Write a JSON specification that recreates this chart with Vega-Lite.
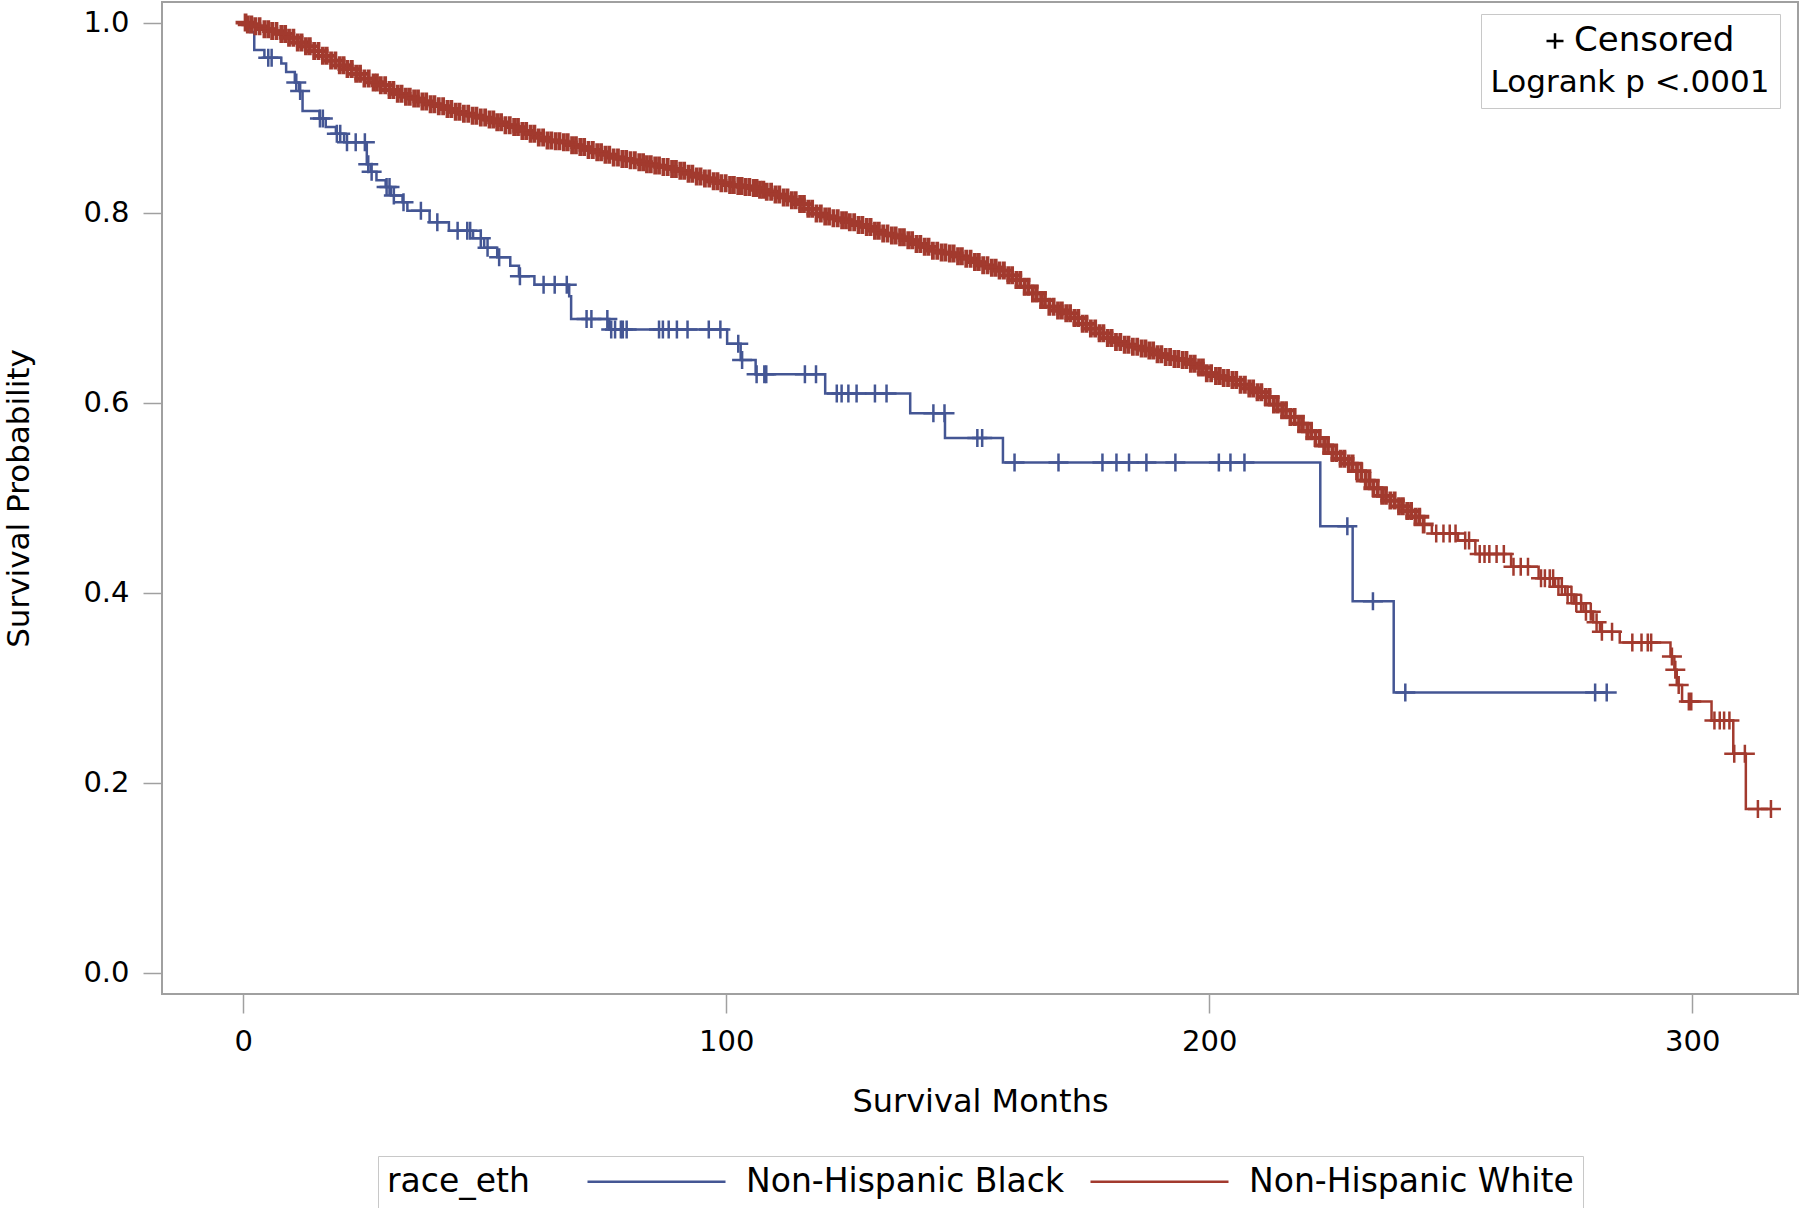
{
  "$schema": "https://vega.github.io/schema/vega-lite/v6.json",
  "width": 1636,
  "height": 992,
  "autosize": {"type": "none"},
  "padding": {"left": 162, "top": 2, "right": 2, "bottom": 214},
  "background": "white",
  "config": {
    "view": {"stroke": "#a0a0a0", "strokeWidth": 2},
    "axis": {"domain": false, "grid": false, "tickColor": "#a0a0a0", "tickWidth": 1.5, "tickSize": 19,
      "labelFont": "DejaVu Sans", "labelFontSize": 29, "labelColor": "#000000", "labelPadding": 14,
      "titleFont": "DejaVu Sans", "titleFontSize": 31, "titleFontWeight": "normal", "titleColor": "#000000"},
    "legend": {"labelFont": "DejaVu Sans", "labelFontSize": 33, "labelColor": "#000000", "labelLimit": 0, "titleLimit": 0,
      "titleFont": "DejaVu Sans", "titleFontSize": 33, "titleFontWeight": "normal", "titleColor": "#000000",
      "strokeColor": "#c8c8c8", "padding": 9}
  },
  "data": {"values": [
    {"g":"Non-Hispanic Black","t":0,"s":1,"c":0},
    {"g":"Non-Hispanic Black","t":1.5,"s":0.99,"c":0},
    {"g":"Non-Hispanic Black","t":2.3,"s":0.971,"c":0},
    {"g":"Non-Hispanic Black","t":4.4,"s":0.963,"c":0},
    {"g":"Non-Hispanic Black","t":5.2,"s":0.963,"c":1},
    {"g":"Non-Hispanic Black","t":5.9,"s":0.963,"c":1},
    {"g":"Non-Hispanic Black","t":7.9,"s":0.957,"c":0},
    {"g":"Non-Hispanic Black","t":8.9,"s":0.948,"c":0},
    {"g":"Non-Hispanic Black","t":10.7,"s":0.937,"c":0},
    {"g":"Non-Hispanic Black","t":11.0,"s":0.937,"c":1},
    {"g":"Non-Hispanic Black","t":11.6,"s":0.928,"c":0},
    {"g":"Non-Hispanic Black","t":11.8,"s":0.928,"c":1},
    {"g":"Non-Hispanic Black","t":12.3,"s":0.907,"c":0},
    {"g":"Non-Hispanic Black","t":15.8,"s":0.899,"c":0},
    {"g":"Non-Hispanic Black","t":15.9,"s":0.899,"c":1},
    {"g":"Non-Hispanic Black","t":16.5,"s":0.899,"c":1},
    {"g":"Non-Hispanic Black","t":17.1,"s":0.89,"c":0},
    {"g":"Non-Hispanic Black","t":19.2,"s":0.883,"c":0},
    {"g":"Non-Hispanic Black","t":19.4,"s":0.883,"c":1},
    {"g":"Non-Hispanic Black","t":20.1,"s":0.883,"c":1},
    {"g":"Non-Hispanic Black","t":20.9,"s":0.874,"c":0},
    {"g":"Non-Hispanic Black","t":21.5,"s":0.874,"c":1},
    {"g":"Non-Hispanic Black","t":23.3,"s":0.874,"c":1},
    {"g":"Non-Hispanic Black","t":25.2,"s":0.874,"c":1},
    {"g":"Non-Hispanic Black","t":25.6,"s":0.851,"c":0},
    {"g":"Non-Hispanic Black","t":25.9,"s":0.851,"c":1},
    {"g":"Non-Hispanic Black","t":26.4,"s":0.843,"c":0},
    {"g":"Non-Hispanic Black","t":26.6,"s":0.843,"c":1},
    {"g":"Non-Hispanic Black","t":27.6,"s":0.834,"c":0},
    {"g":"Non-Hispanic Black","t":29.5,"s":0.827,"c":0},
    {"g":"Non-Hispanic Black","t":29.7,"s":0.827,"c":1},
    {"g":"Non-Hispanic Black","t":30.3,"s":0.827,"c":1},
    {"g":"Non-Hispanic Black","t":30.6,"s":0.818,"c":0},
    {"g":"Non-Hispanic Black","t":31.2,"s":0.818,"c":1},
    {"g":"Non-Hispanic Black","t":33.0,"s":0.811,"c":0},
    {"g":"Non-Hispanic Black","t":33.2,"s":0.811,"c":1},
    {"g":"Non-Hispanic Black","t":34.0,"s":0.802,"c":0},
    {"g":"Non-Hispanic Black","t":36.8,"s":0.802,"c":1},
    {"g":"Non-Hispanic Black","t":38.6,"s":0.79,"c":0},
    {"g":"Non-Hispanic Black","t":40.2,"s":0.79,"c":1},
    {"g":"Non-Hispanic Black","t":42.6,"s":0.781,"c":0},
    {"g":"Non-Hispanic Black","t":44.4,"s":0.781,"c":1},
    {"g":"Non-Hispanic Black","t":46.4,"s":0.781,"c":1},
    {"g":"Non-Hispanic Black","t":47.0,"s":0.781,"c":1},
    {"g":"Non-Hispanic Black","t":47.6,"s":0.773,"c":0},
    {"g":"Non-Hispanic Black","t":49.2,"s":0.773,"c":1},
    {"g":"Non-Hispanic Black","t":49.9,"s":0.763,"c":0},
    {"g":"Non-Hispanic Black","t":50.6,"s":0.763,"c":1},
    {"g":"Non-Hispanic Black","t":52.6,"s":0.753,"c":0},
    {"g":"Non-Hispanic Black","t":53.0,"s":0.753,"c":1},
    {"g":"Non-Hispanic Black","t":55.3,"s":0.744,"c":0},
    {"g":"Non-Hispanic Black","t":57.1,"s":0.733,"c":0},
    {"g":"Non-Hispanic Black","t":57.3,"s":0.733,"c":1},
    {"g":"Non-Hispanic Black","t":60.3,"s":0.724,"c":0},
    {"g":"Non-Hispanic Black","t":62.2,"s":0.724,"c":1},
    {"g":"Non-Hispanic Black","t":64.5,"s":0.724,"c":1},
    {"g":"Non-Hispanic Black","t":67.0,"s":0.724,"c":1},
    {"g":"Non-Hispanic Black","t":67.5,"s":0.712,"c":0},
    {"g":"Non-Hispanic Black","t":67.9,"s":0.688,"c":0},
    {"g":"Non-Hispanic Black","t":71.1,"s":0.688,"c":1},
    {"g":"Non-Hispanic Black","t":72.1,"s":0.688,"c":1},
    {"g":"Non-Hispanic Black","t":75.4,"s":0.688,"c":1},
    {"g":"Non-Hispanic Black","t":75.8,"s":0.677,"c":0},
    {"g":"Non-Hispanic Black","t":76.2,"s":0.677,"c":1},
    {"g":"Non-Hispanic Black","t":77.0,"s":0.677,"c":1},
    {"g":"Non-Hispanic Black","t":78.2,"s":0.677,"c":1},
    {"g":"Non-Hispanic Black","t":78.6,"s":0.677,"c":1},
    {"g":"Non-Hispanic Black","t":79.4,"s":0.677,"c":1},
    {"g":"Non-Hispanic Black","t":86.1,"s":0.677,"c":1},
    {"g":"Non-Hispanic Black","t":86.9,"s":0.677,"c":1},
    {"g":"Non-Hispanic Black","t":88.1,"s":0.677,"c":1},
    {"g":"Non-Hispanic Black","t":89.8,"s":0.677,"c":1},
    {"g":"Non-Hispanic Black","t":92.0,"s":0.677,"c":1},
    {"g":"Non-Hispanic Black","t":96.4,"s":0.677,"c":1},
    {"g":"Non-Hispanic Black","t":98.8,"s":0.677,"c":1},
    {"g":"Non-Hispanic Black","t":100.2,"s":0.662,"c":0},
    {"g":"Non-Hispanic Black","t":102.5,"s":0.662,"c":1},
    {"g":"Non-Hispanic Black","t":103.0,"s":0.645,"c":0},
    {"g":"Non-Hispanic Black","t":103.3,"s":0.645,"c":1},
    {"g":"Non-Hispanic Black","t":106.1,"s":0.63,"c":0},
    {"g":"Non-Hispanic Black","t":106.3,"s":0.63,"c":1},
    {"g":"Non-Hispanic Black","t":107.9,"s":0.63,"c":1},
    {"g":"Non-Hispanic Black","t":108.3,"s":0.63,"c":1},
    {"g":"Non-Hispanic Black","t":116.3,"s":0.63,"c":1},
    {"g":"Non-Hispanic Black","t":118.6,"s":0.63,"c":1},
    {"g":"Non-Hispanic Black","t":120.5,"s":0.6096,"c":0},
    {"g":"Non-Hispanic Black","t":122.9,"s":0.6096,"c":1},
    {"g":"Non-Hispanic Black","t":123.9,"s":0.6096,"c":1},
    {"g":"Non-Hispanic Black","t":125.3,"s":0.6096,"c":1},
    {"g":"Non-Hispanic Black","t":127.0,"s":0.6096,"c":1},
    {"g":"Non-Hispanic Black","t":130.8,"s":0.6096,"c":1},
    {"g":"Non-Hispanic Black","t":133.2,"s":0.6096,"c":1},
    {"g":"Non-Hispanic Black","t":138.1,"s":0.589,"c":0},
    {"g":"Non-Hispanic Black","t":142.9,"s":0.589,"c":1},
    {"g":"Non-Hispanic Black","t":145.2,"s":0.589,"c":1},
    {"g":"Non-Hispanic Black","t":145.3,"s":0.563,"c":0},
    {"g":"Non-Hispanic Black","t":152.0,"s":0.563,"c":1},
    {"g":"Non-Hispanic Black","t":153.0,"s":0.563,"c":1},
    {"g":"Non-Hispanic Black","t":157.3,"s":0.537,"c":0},
    {"g":"Non-Hispanic Black","t":159.7,"s":0.537,"c":1},
    {"g":"Non-Hispanic Black","t":168.8,"s":0.537,"c":1},
    {"g":"Non-Hispanic Black","t":177.9,"s":0.537,"c":1},
    {"g":"Non-Hispanic Black","t":180.8,"s":0.537,"c":1},
    {"g":"Non-Hispanic Black","t":183.4,"s":0.537,"c":1},
    {"g":"Non-Hispanic Black","t":187.0,"s":0.537,"c":1},
    {"g":"Non-Hispanic Black","t":193.0,"s":0.537,"c":1},
    {"g":"Non-Hispanic Black","t":202.0,"s":0.537,"c":1},
    {"g":"Non-Hispanic Black","t":204.4,"s":0.537,"c":1},
    {"g":"Non-Hispanic Black","t":207.3,"s":0.537,"c":1},
    {"g":"Non-Hispanic Black","t":223.0,"s":0.47,"c":0},
    {"g":"Non-Hispanic Black","t":228.6,"s":0.47,"c":1},
    {"g":"Non-Hispanic Black","t":229.7,"s":0.391,"c":0},
    {"g":"Non-Hispanic Black","t":233.9,"s":0.391,"c":1},
    {"g":"Non-Hispanic Black","t":238.2,"s":0.295,"c":0},
    {"g":"Non-Hispanic Black","t":240.6,"s":0.295,"c":1},
    {"g":"Non-Hispanic Black","t":279.9,"s":0.295,"c":1},
    {"g":"Non-Hispanic Black","t":282.3,"s":0.295,"c":1},

    {"g":"Non-Hispanic White","t":0,"s":1,"c":0},
    {"g":"Non-Hispanic White","t":0.5,"s":1,"c":1},
    {"g":"Non-Hispanic White","t":0.96,"s":0.998,"c":1},{"g":"Non-Hispanic White","t":1.7,"s":0.998,"c":1},
    {"g":"Non-Hispanic White","t":2.5,"s":0.996,"c":1},{"g":"Non-Hispanic White","t":3.4,"s":0.996,"c":1},
    {"g":"Non-Hispanic White","t":4.4,"s":0.993,"c":1},{"g":"Non-Hispanic White","t":5.2,"s":0.993,"c":1},
    {"g":"Non-Hispanic White","t":6.0,"s":0.991,"c":1},{"g":"Non-Hispanic White","t":6.9,"s":0.991,"c":1},
    {"g":"Non-Hispanic White","t":7.9,"s":0.988,"c":1},{"g":"Non-Hispanic White","t":8.7,"s":0.988,"c":1},
    {"g":"Non-Hispanic White","t":9.5,"s":0.984,"c":1},{"g":"Non-Hispanic White","t":10.4,"s":0.984,"c":1},
    {"g":"Non-Hispanic White","t":11.3,"s":0.979,"c":1},{"g":"Non-Hispanic White","t":12.1,"s":0.979,"c":1},
    {"g":"Non-Hispanic White","t":13.0,"s":0.975,"c":1},{"g":"Non-Hispanic White","t":13.8,"s":0.975,"c":1},
    {"g":"Non-Hispanic White","t":14.7,"s":0.97,"c":1},{"g":"Non-Hispanic White","t":15.6,"s":0.97,"c":1},
    {"g":"Non-Hispanic White","t":16.5,"s":0.965,"c":1},{"g":"Non-Hispanic White","t":17.3,"s":0.965,"c":1},
    {"g":"Non-Hispanic White","t":18.2,"s":0.96,"c":1},{"g":"Non-Hispanic White","t":19.1,"s":0.96,"c":1},
    {"g":"Non-Hispanic White","t":20.0,"s":0.955,"c":1},{"g":"Non-Hispanic White","t":20.8,"s":0.955,"c":1},
    {"g":"Non-Hispanic White","t":21.6,"s":0.951,"c":1},{"g":"Non-Hispanic White","t":22.5,"s":0.951,"c":1},
    {"g":"Non-Hispanic White","t":23.4,"s":0.946,"c":1},{"g":"Non-Hispanic White","t":24.2,"s":0.946,"c":1},
    {"g":"Non-Hispanic White","t":25.1,"s":0.941,"c":1},{"g":"Non-Hispanic White","t":26.0,"s":0.941,"c":1},
    {"g":"Non-Hispanic White","t":27.0,"s":0.937,"c":1},{"g":"Non-Hispanic White","t":27.7,"s":0.937,"c":1},
    {"g":"Non-Hispanic White","t":28.5,"s":0.934,"c":1},{"g":"Non-Hispanic White","t":29.4,"s":0.934,"c":1},
    {"g":"Non-Hispanic White","t":30.3,"s":0.929,"c":1},{"g":"Non-Hispanic White","t":31.1,"s":0.929,"c":1},
    {"g":"Non-Hispanic White","t":32.0,"s":0.925,"c":1},{"g":"Non-Hispanic White","t":32.8,"s":0.925,"c":1},
    {"g":"Non-Hispanic White","t":33.7,"s":0.922,"c":1},{"g":"Non-Hispanic White","t":34.5,"s":0.922,"c":1},
    {"g":"Non-Hispanic White","t":35.4,"s":0.92,"c":1},{"g":"Non-Hispanic White","t":36.2,"s":0.92,"c":1},
    {"g":"Non-Hispanic White","t":37.1,"s":0.917,"c":1},{"g":"Non-Hispanic White","t":37.9,"s":0.917,"c":1},
    {"g":"Non-Hispanic White","t":38.8,"s":0.914,"c":1},{"g":"Non-Hispanic White","t":39.6,"s":0.914,"c":1},
    {"g":"Non-Hispanic White","t":40.5,"s":0.912,"c":1},{"g":"Non-Hispanic White","t":41.4,"s":0.912,"c":1},
    {"g":"Non-Hispanic White","t":42.3,"s":0.909,"c":1},{"g":"Non-Hispanic White","t":43.1,"s":0.909,"c":1},
    {"g":"Non-Hispanic White","t":44.0,"s":0.906,"c":1},{"g":"Non-Hispanic White","t":44.8,"s":0.906,"c":1},
    {"g":"Non-Hispanic White","t":45.7,"s":0.904,"c":1},{"g":"Non-Hispanic White","t":46.6,"s":0.904,"c":1},
    {"g":"Non-Hispanic White","t":47.5,"s":0.902,"c":1},{"g":"Non-Hispanic White","t":48.3,"s":0.902,"c":1},
    {"g":"Non-Hispanic White","t":49.2,"s":0.9,"c":1},{"g":"Non-Hispanic White","t":50.1,"s":0.9,"c":1},
    {"g":"Non-Hispanic White","t":51.0,"s":0.898,"c":1},{"g":"Non-Hispanic White","t":51.8,"s":0.898,"c":1},
    {"g":"Non-Hispanic White","t":52.6,"s":0.895,"c":1},{"g":"Non-Hispanic White","t":53.4,"s":0.895,"c":1},
    {"g":"Non-Hispanic White","t":54.3,"s":0.892,"c":1},{"g":"Non-Hispanic White","t":55.2,"s":0.892,"c":1},
    {"g":"Non-Hispanic White","t":56.1,"s":0.89,"c":1},{"g":"Non-Hispanic White","t":56.9,"s":0.89,"c":1},
    {"g":"Non-Hispanic White","t":57.8,"s":0.886,"c":1},{"g":"Non-Hispanic White","t":58.6,"s":0.886,"c":1},
    {"g":"Non-Hispanic White","t":59.5,"s":0.883,"c":1},{"g":"Non-Hispanic White","t":60.3,"s":0.883,"c":1},
    {"g":"Non-Hispanic White","t":61.2,"s":0.879,"c":1},{"g":"Non-Hispanic White","t":62.1,"s":0.879,"c":1},
    {"g":"Non-Hispanic White","t":63.0,"s":0.876,"c":1},{"g":"Non-Hispanic White","t":63.8,"s":0.876,"c":1},
    {"g":"Non-Hispanic White","t":64.7,"s":0.875,"c":1},{"g":"Non-Hispanic White","t":65.5,"s":0.875,"c":1},
    {"g":"Non-Hispanic White","t":66.4,"s":0.874,"c":1},{"g":"Non-Hispanic White","t":67.2,"s":0.874,"c":1},
    {"g":"Non-Hispanic White","t":68.1,"s":0.871,"c":1},{"g":"Non-Hispanic White","t":68.9,"s":0.871,"c":1},
    {"g":"Non-Hispanic White","t":69.8,"s":0.869,"c":1},{"g":"Non-Hispanic White","t":70.6,"s":0.869,"c":1},
    {"g":"Non-Hispanic White","t":71.5,"s":0.866,"c":1},{"g":"Non-Hispanic White","t":72.4,"s":0.866,"c":1},
    {"g":"Non-Hispanic White","t":73.3,"s":0.8635,"c":1},{"g":"Non-Hispanic White","t":74.1,"s":0.8635,"c":1},
    {"g":"Non-Hispanic White","t":75.0,"s":0.861,"c":1},{"g":"Non-Hispanic White","t":75.8,"s":0.861,"c":1},
    {"g":"Non-Hispanic White","t":76.7,"s":0.858,"c":1},{"g":"Non-Hispanic White","t":77.6,"s":0.858,"c":1},
    {"g":"Non-Hispanic White","t":78.5,"s":0.8565,"c":1},{"g":"Non-Hispanic White","t":79.3,"s":0.8565,"c":1},
    {"g":"Non-Hispanic White","t":80.2,"s":0.855,"c":1},{"g":"Non-Hispanic White","t":81.1,"s":0.855,"c":1},
    {"g":"Non-Hispanic White","t":82.0,"s":0.853,"c":1},{"g":"Non-Hispanic White","t":82.8,"s":0.853,"c":1},
    {"g":"Non-Hispanic White","t":83.6,"s":0.851,"c":1},{"g":"Non-Hispanic White","t":84.4,"s":0.851,"c":1},
    {"g":"Non-Hispanic White","t":85.3,"s":0.8495,"c":1},{"g":"Non-Hispanic White","t":86.1,"s":0.8495,"c":1},
    {"g":"Non-Hispanic White","t":87.0,"s":0.848,"c":1},{"g":"Non-Hispanic White","t":87.9,"s":0.848,"c":1},
    {"g":"Non-Hispanic White","t":88.8,"s":0.846,"c":1},{"g":"Non-Hispanic White","t":89.6,"s":0.846,"c":1},
    {"g":"Non-Hispanic White","t":90.5,"s":0.844,"c":1},{"g":"Non-Hispanic White","t":91.3,"s":0.844,"c":1},
    {"g":"Non-Hispanic White","t":92.2,"s":0.841,"c":1},{"g":"Non-Hispanic White","t":93.0,"s":0.841,"c":1},
    {"g":"Non-Hispanic White","t":93.9,"s":0.838,"c":1},{"g":"Non-Hispanic White","t":94.7,"s":0.838,"c":1},
    {"g":"Non-Hispanic White","t":95.6,"s":0.836,"c":1},{"g":"Non-Hispanic White","t":96.5,"s":0.836,"c":1},
    {"g":"Non-Hispanic White","t":97.4,"s":0.833,"c":1},{"g":"Non-Hispanic White","t":98.2,"s":0.833,"c":1},
    {"g":"Non-Hispanic White","t":99.0,"s":0.831,"c":1},{"g":"Non-Hispanic White","t":99.9,"s":0.831,"c":1},
    {"g":"Non-Hispanic White","t":100.8,"s":0.829,"c":1},{"g":"Non-Hispanic White","t":101.6,"s":0.829,"c":1},
    {"g":"Non-Hispanic White","t":102.5,"s":0.828,"c":1},{"g":"Non-Hispanic White","t":103.2,"s":0.828,"c":1},
    {"g":"Non-Hispanic White","t":104.0,"s":0.827,"c":1},{"g":"Non-Hispanic White","t":104.8,"s":0.827,"c":1},
    {"g":"Non-Hispanic White","t":105.7,"s":0.826,"c":1},{"g":"Non-Hispanic White","t":106.3,"s":0.826,"c":1},
    {"g":"Non-Hispanic White","t":107.0,"s":0.824,"c":1},{"g":"Non-Hispanic White","t":107.7,"s":0.824,"c":1},
    {"g":"Non-Hispanic White","t":108.4,"s":0.822,"c":1},{"g":"Non-Hispanic White","t":109.3,"s":0.822,"c":1},
    {"g":"Non-Hispanic White","t":110.2,"s":0.819,"c":1},{"g":"Non-Hispanic White","t":111.0,"s":0.819,"c":1},
    {"g":"Non-Hispanic White","t":111.9,"s":0.816,"c":1},{"g":"Non-Hispanic White","t":112.7,"s":0.816,"c":1},
    {"g":"Non-Hispanic White","t":113.6,"s":0.813,"c":1},{"g":"Non-Hispanic White","t":114.4,"s":0.813,"c":1},
    {"g":"Non-Hispanic White","t":115.3,"s":0.809,"c":1},{"g":"Non-Hispanic White","t":116.1,"s":0.809,"c":1},
    {"g":"Non-Hispanic White","t":117.0,"s":0.804,"c":1},{"g":"Non-Hispanic White","t":117.8,"s":0.804,"c":1},
    {"g":"Non-Hispanic White","t":118.7,"s":0.799,"c":1},{"g":"Non-Hispanic White","t":119.6,"s":0.799,"c":1},
    {"g":"Non-Hispanic White","t":120.5,"s":0.796,"c":1},{"g":"Non-Hispanic White","t":121.3,"s":0.796,"c":1},
    {"g":"Non-Hispanic White","t":122.2,"s":0.794,"c":1},{"g":"Non-Hispanic White","t":123.1,"s":0.794,"c":1},
    {"g":"Non-Hispanic White","t":124.0,"s":0.792,"c":1},{"g":"Non-Hispanic White","t":124.8,"s":0.792,"c":1},
    {"g":"Non-Hispanic White","t":125.6,"s":0.79,"c":1},{"g":"Non-Hispanic White","t":126.5,"s":0.79,"c":1},
    {"g":"Non-Hispanic White","t":127.4,"s":0.787,"c":1},{"g":"Non-Hispanic White","t":128.2,"s":0.787,"c":1},
    {"g":"Non-Hispanic White","t":129.1,"s":0.785,"c":1},{"g":"Non-Hispanic White","t":129.9,"s":0.785,"c":1},
    {"g":"Non-Hispanic White","t":130.8,"s":0.781,"c":1},{"g":"Non-Hispanic White","t":131.6,"s":0.781,"c":1},
    {"g":"Non-Hispanic White","t":132.5,"s":0.778,"c":1},{"g":"Non-Hispanic White","t":133.4,"s":0.778,"c":1},
    {"g":"Non-Hispanic White","t":134.3,"s":0.776,"c":1},{"g":"Non-Hispanic White","t":135.1,"s":0.776,"c":1},
    {"g":"Non-Hispanic White","t":136.0,"s":0.774,"c":1},{"g":"Non-Hispanic White","t":136.8,"s":0.774,"c":1},
    {"g":"Non-Hispanic White","t":137.7,"s":0.771,"c":1},{"g":"Non-Hispanic White","t":138.5,"s":0.771,"c":1},
    {"g":"Non-Hispanic White","t":139.4,"s":0.767,"c":1},{"g":"Non-Hispanic White","t":140.2,"s":0.767,"c":1},
    {"g":"Non-Hispanic White","t":141.1,"s":0.764,"c":1},{"g":"Non-Hispanic White","t":141.9,"s":0.764,"c":1},
    {"g":"Non-Hispanic White","t":142.8,"s":0.76,"c":1},{"g":"Non-Hispanic White","t":143.7,"s":0.76,"c":1},
    {"g":"Non-Hispanic White","t":144.6,"s":0.758,"c":1},{"g":"Non-Hispanic White","t":145.4,"s":0.758,"c":1},
    {"g":"Non-Hispanic White","t":146.3,"s":0.757,"c":1},{"g":"Non-Hispanic White","t":147.1,"s":0.757,"c":1},
    {"g":"Non-Hispanic White","t":148.0,"s":0.754,"c":1},{"g":"Non-Hispanic White","t":148.8,"s":0.754,"c":1},
    {"g":"Non-Hispanic White","t":149.7,"s":0.7515,"c":1},{"g":"Non-Hispanic White","t":150.6,"s":0.7515,"c":1},
    {"g":"Non-Hispanic White","t":151.5,"s":0.748,"c":1},{"g":"Non-Hispanic White","t":152.3,"s":0.748,"c":1},
    {"g":"Non-Hispanic White","t":153.2,"s":0.7445,"c":1},{"g":"Non-Hispanic White","t":154.1,"s":0.7445,"c":1},
    {"g":"Non-Hispanic White","t":155.0,"s":0.742,"c":1},{"g":"Non-Hispanic White","t":155.8,"s":0.742,"c":1},
    {"g":"Non-Hispanic White","t":156.6,"s":0.739,"c":1},{"g":"Non-Hispanic White","t":157.5,"s":0.739,"c":1},
    {"g":"Non-Hispanic White","t":158.4,"s":0.734,"c":1},{"g":"Non-Hispanic White","t":159.2,"s":0.734,"c":1},
    {"g":"Non-Hispanic White","t":160.1,"s":0.729,"c":1},{"g":"Non-Hispanic White","t":160.9,"s":0.729,"c":1},
    {"g":"Non-Hispanic White","t":161.8,"s":0.722,"c":1},{"g":"Non-Hispanic White","t":162.6,"s":0.722,"c":1},
    {"g":"Non-Hispanic White","t":163.5,"s":0.715,"c":1},{"g":"Non-Hispanic White","t":164.3,"s":0.715,"c":1},
    {"g":"Non-Hispanic White","t":165.2,"s":0.708,"c":1},{"g":"Non-Hispanic White","t":166.0,"s":0.708,"c":1},
    {"g":"Non-Hispanic White","t":166.9,"s":0.701,"c":1},{"g":"Non-Hispanic White","t":167.8,"s":0.701,"c":1},
    {"g":"Non-Hispanic White","t":168.7,"s":0.697,"c":1},{"g":"Non-Hispanic White","t":169.5,"s":0.697,"c":1},
    {"g":"Non-Hispanic White","t":170.4,"s":0.694,"c":1},{"g":"Non-Hispanic White","t":171.2,"s":0.694,"c":1},
    {"g":"Non-Hispanic White","t":172.1,"s":0.689,"c":1},{"g":"Non-Hispanic White","t":172.9,"s":0.689,"c":1},
    {"g":"Non-Hispanic White","t":173.8,"s":0.683,"c":1},{"g":"Non-Hispanic White","t":174.6,"s":0.683,"c":1},
    {"g":"Non-Hispanic White","t":175.5,"s":0.678,"c":1},{"g":"Non-Hispanic White","t":176.4,"s":0.678,"c":1},
    {"g":"Non-Hispanic White","t":177.3,"s":0.673,"c":1},{"g":"Non-Hispanic White","t":178.1,"s":0.673,"c":1},
    {"g":"Non-Hispanic White","t":179.0,"s":0.668,"c":1},{"g":"Non-Hispanic White","t":179.8,"s":0.668,"c":1},
    {"g":"Non-Hispanic White","t":180.7,"s":0.664,"c":1},{"g":"Non-Hispanic White","t":181.6,"s":0.664,"c":1},
    {"g":"Non-Hispanic White","t":182.5,"s":0.661,"c":1},{"g":"Non-Hispanic White","t":183.3,"s":0.661,"c":1},
    {"g":"Non-Hispanic White","t":184.2,"s":0.659,"c":1},{"g":"Non-Hispanic White","t":185.1,"s":0.659,"c":1},
    {"g":"Non-Hispanic White","t":186.0,"s":0.657,"c":1},{"g":"Non-Hispanic White","t":186.8,"s":0.657,"c":1},
    {"g":"Non-Hispanic White","t":187.6,"s":0.655,"c":1},{"g":"Non-Hispanic White","t":188.4,"s":0.655,"c":1},
    {"g":"Non-Hispanic White","t":189.3,"s":0.651,"c":1},{"g":"Non-Hispanic White","t":190.1,"s":0.651,"c":1},
    {"g":"Non-Hispanic White","t":191.0,"s":0.648,"c":1},{"g":"Non-Hispanic White","t":191.9,"s":0.648,"c":1},
    {"g":"Non-Hispanic White","t":192.8,"s":0.646,"c":1},{"g":"Non-Hispanic White","t":193.6,"s":0.646,"c":1},
    {"g":"Non-Hispanic White","t":194.5,"s":0.645,"c":1},{"g":"Non-Hispanic White","t":195.3,"s":0.645,"c":1},
    {"g":"Non-Hispanic White","t":196.2,"s":0.641,"c":1},{"g":"Non-Hispanic White","t":197.0,"s":0.641,"c":1},
    {"g":"Non-Hispanic White","t":197.9,"s":0.637,"c":1},{"g":"Non-Hispanic White","t":198.7,"s":0.637,"c":1},
    {"g":"Non-Hispanic White","t":199.5,"s":0.631,"c":1},{"g":"Non-Hispanic White","t":200.4,"s":0.631,"c":1},
    {"g":"Non-Hispanic White","t":201.4,"s":0.628,"c":1},{"g":"Non-Hispanic White","t":202.2,"s":0.628,"c":1},
    {"g":"Non-Hispanic White","t":203.0,"s":0.626,"c":1},{"g":"Non-Hispanic White","t":203.9,"s":0.626,"c":1},
    {"g":"Non-Hispanic White","t":204.8,"s":0.624,"c":1},{"g":"Non-Hispanic White","t":205.6,"s":0.624,"c":1},
    {"g":"Non-Hispanic White","t":206.5,"s":0.619,"c":1},{"g":"Non-Hispanic White","t":207.4,"s":0.619,"c":1},
    {"g":"Non-Hispanic White","t":208.3,"s":0.615,"c":1},{"g":"Non-Hispanic White","t":209.1,"s":0.615,"c":1},
    {"g":"Non-Hispanic White","t":210.0,"s":0.611,"c":1},{"g":"Non-Hispanic White","t":210.8,"s":0.611,"c":1},
    {"g":"Non-Hispanic White","t":211.7,"s":0.606,"c":1},{"g":"Non-Hispanic White","t":212.5,"s":0.606,"c":1},
    {"g":"Non-Hispanic White","t":213.4,"s":0.598,"c":1},{"g":"Non-Hispanic White","t":214.2,"s":0.598,"c":1},
    {"g":"Non-Hispanic White","t":215.1,"s":0.592,"c":1},{"g":"Non-Hispanic White","t":215.9,"s":0.592,"c":1},
    {"g":"Non-Hispanic White","t":216.8,"s":0.585,"c":1},{"g":"Non-Hispanic White","t":217.7,"s":0.585,"c":1},
    {"g":"Non-Hispanic White","t":218.6,"s":0.578,"c":1},{"g":"Non-Hispanic White","t":219.4,"s":0.578,"c":1},
    {"g":"Non-Hispanic White","t":220.3,"s":0.57,"c":1},{"g":"Non-Hispanic White","t":221.1,"s":0.57,"c":1},
    {"g":"Non-Hispanic White","t":222.0,"s":0.563,"c":1},{"g":"Non-Hispanic White","t":222.9,"s":0.563,"c":1},
    {"g":"Non-Hispanic White","t":223.8,"s":0.555,"c":1},{"g":"Non-Hispanic White","t":224.6,"s":0.555,"c":1},
    {"g":"Non-Hispanic White","t":225.5,"s":0.547,"c":1},{"g":"Non-Hispanic White","t":226.3,"s":0.547,"c":1},
    {"g":"Non-Hispanic White","t":227.2,"s":0.541,"c":1},{"g":"Non-Hispanic White","t":228.0,"s":0.541,"c":1},
    {"g":"Non-Hispanic White","t":228.9,"s":0.536,"c":1},{"g":"Non-Hispanic White","t":229.7,"s":0.536,"c":1},
    {"g":"Non-Hispanic White","t":230.6,"s":0.528,"c":1},{"g":"Non-Hispanic White","t":231.5,"s":0.528,"c":1},
    {"g":"Non-Hispanic White","t":232.4,"s":0.518,"c":1},{"g":"Non-Hispanic White","t":233.2,"s":0.518,"c":1},
    {"g":"Non-Hispanic White","t":234.0,"s":0.51,"c":1},{"g":"Non-Hispanic White","t":234.9,"s":0.51,"c":1},
    {"g":"Non-Hispanic White","t":235.8,"s":0.502,"c":1},{"g":"Non-Hispanic White","t":236.6,"s":0.502,"c":1},
    {"g":"Non-Hispanic White","t":237.5,"s":0.497,"c":1},{"g":"Non-Hispanic White","t":238.4,"s":0.497,"c":1},
    {"g":"Non-Hispanic White","t":239.3,"s":0.491,"c":1},{"g":"Non-Hispanic White","t":240.1,"s":0.491,"c":1},
    {"g":"Non-Hispanic White","t":241.0,"s":0.486,"c":1},{"g":"Non-Hispanic White","t":241.8,"s":0.486,"c":1},
    {"g":"Non-Hispanic White","t":242.7,"s":0.48,"c":1},{"g":"Non-Hispanic White","t":243.5,"s":0.48,"c":1},
    {"g":"Non-Hispanic White","t":244.4,"s":0.472,"c":1},
    {"g":"Non-Hispanic White","t":246.1,"s":0.4625,"c":0},
    {"g":"Non-Hispanic White","t":247.0,"s":0.4625,"c":1},{"g":"Non-Hispanic White","t":248.5,"s":0.4625,"c":1},
    {"g":"Non-Hispanic White","t":249.8,"s":0.4625,"c":1},{"g":"Non-Hispanic White","t":251.0,"s":0.4625,"c":1},
    {"g":"Non-Hispanic White","t":251.5,"s":0.455,"c":0},
    {"g":"Non-Hispanic White","t":253.0,"s":0.455,"c":1},{"g":"Non-Hispanic White","t":253.8,"s":0.455,"c":1},
    {"g":"Non-Hispanic White","t":255.1,"s":0.4408,"c":0},
    {"g":"Non-Hispanic White","t":256.0,"s":0.4408,"c":1},{"g":"Non-Hispanic White","t":257.0,"s":0.4408,"c":1},
    {"g":"Non-Hispanic White","t":258.0,"s":0.4408,"c":1},{"g":"Non-Hispanic White","t":259.5,"s":0.4408,"c":1},
    {"g":"Non-Hispanic White","t":261.0,"s":0.4408,"c":1},
    {"g":"Non-Hispanic White","t":262.5,"s":0.4275,"c":0},
    {"g":"Non-Hispanic White","t":263.0,"s":0.4275,"c":1},{"g":"Non-Hispanic White","t":264.5,"s":0.4275,"c":1},
    {"g":"Non-Hispanic White","t":266.0,"s":0.4275,"c":1},
    {"g":"Non-Hispanic White","t":268.2,"s":0.4152,"c":0},
    {"g":"Non-Hispanic White","t":268.7,"s":0.4152,"c":1},{"g":"Non-Hispanic White","t":269.5,"s":0.4152,"c":1},
    {"g":"Non-Hispanic White","t":270.5,"s":0.4152,"c":1},{"g":"Non-Hispanic White","t":271.2,"s":0.4152,"c":1},
    {"g":"Non-Hispanic White","t":271.6,"s":0.4065,"c":0},
    {"g":"Non-Hispanic White","t":272.3,"s":0.4065,"c":1},{"g":"Non-Hispanic White","t":273.0,"s":0.4065,"c":1},
    {"g":"Non-Hispanic White","t":273.7,"s":0.398,"c":0},
    {"g":"Non-Hispanic White","t":274.2,"s":0.398,"c":1},{"g":"Non-Hispanic White","t":275.0,"s":0.398,"c":1},
    {"g":"Non-Hispanic White","t":275.5,"s":0.389,"c":0},
    {"g":"Non-Hispanic White","t":276.0,"s":0.389,"c":1},{"g":"Non-Hispanic White","t":277.0,"s":0.389,"c":1},
    {"g":"Non-Hispanic White","t":277.5,"s":0.38,"c":0},
    {"g":"Non-Hispanic White","t":278.0,"s":0.38,"c":1},{"g":"Non-Hispanic White","t":279.0,"s":0.38,"c":1},
    {"g":"Non-Hispanic White","t":279.5,"s":0.369,"c":0},
    {"g":"Non-Hispanic White","t":280.2,"s":0.369,"c":1},
    {"g":"Non-Hispanic White","t":280.9,"s":0.359,"c":0},
    {"g":"Non-Hispanic White","t":281.3,"s":0.359,"c":1},{"g":"Non-Hispanic White","t":283.4,"s":0.359,"c":1},
    {"g":"Non-Hispanic White","t":285.0,"s":0.3476,"c":0},
    {"g":"Non-Hispanic White","t":287.6,"s":0.3476,"c":1},{"g":"Non-Hispanic White","t":289.5,"s":0.3476,"c":1},
    {"g":"Non-Hispanic White","t":290.8,"s":0.3476,"c":1},{"g":"Non-Hispanic White","t":291.5,"s":0.3476,"c":1},
    {"g":"Non-Hispanic White","t":295.5,"s":0.333,"c":0},
    {"g":"Non-Hispanic White","t":295.8,"s":0.333,"c":1},
    {"g":"Non-Hispanic White","t":296.3,"s":0.319,"c":0},
    {"g":"Non-Hispanic White","t":296.5,"s":0.319,"c":1},
    {"g":"Non-Hispanic White","t":296.8,"s":0.303,"c":0},
    {"g":"Non-Hispanic White","t":297.2,"s":0.303,"c":1},
    {"g":"Non-Hispanic White","t":297.9,"s":0.2856,"c":0},
    {"g":"Non-Hispanic White","t":299.3,"s":0.2856,"c":1},{"g":"Non-Hispanic White","t":299.8,"s":0.2856,"c":1},
    {"g":"Non-Hispanic White","t":304.0,"s":0.2657,"c":0},
    {"g":"Non-Hispanic White","t":304.6,"s":0.2657,"c":1},{"g":"Non-Hispanic White","t":305.7,"s":0.2657,"c":1},
    {"g":"Non-Hispanic White","t":306.6,"s":0.2657,"c":1},{"g":"Non-Hispanic White","t":307.7,"s":0.2657,"c":1},
    {"g":"Non-Hispanic White","t":308.5,"s":0.2307,"c":0},
    {"g":"Non-Hispanic White","t":308.7,"s":0.2307,"c":1},{"g":"Non-Hispanic White","t":310.9,"s":0.2307,"c":1},
    {"g":"Non-Hispanic White","t":311.1,"s":0.1725,"c":0},
    {"g":"Non-Hispanic White","t":313.6,"s":0.1725,"c":1},{"g":"Non-Hispanic White","t":316.3,"s":0.1725,"c":1}
  ]},
  "encoding": {
    "x": {"field": "t", "type": "quantitative",
      "scale": {"domain": [-16.8, 321.9], "nice": false, "zero": false},
      "axis": {"values": [0, 100, 200, 300], "title": "Survival Months", "titleFontSize": 32, "titlePadding": 30, "labelFlush": false}},
    "y": {"field": "s", "type": "quantitative",
      "scale": {"domain": [-0.0221, 1.0216], "nice": false, "zero": false},
      "axis": {"values": [0, 0.2, 0.4, 0.6, 0.8, 1.0], "format": ".1f", "title": "Survival Probability", "titleFontSize": 31, "titlePadding": 47, "labelFlush": false}},
    "color": {"field": "g", "type": "nominal",
      "scale": {"domain": ["Non-Hispanic Black", "Non-Hispanic White"], "range": ["#445694", "#A23A2E"]},
      "legend": {"title": "race_eth", "orient": "none", "legendX": 216, "legendY": 1154, "direction": "horizontal",
        "titleOrient": "left", "titlePadding": 55, "symbolType": "M-5,0L5,0", "symbolSize": 762, "symbolStrokeWidth": 2.5,
        "symbolOffset": 55, "labelOffset": 73, "columnPadding": 20}}
  },
  "layer": [
    {"mark": {"type": "line", "interpolate": "step-after", "strokeWidth": 2.5}},
    {"transform": [{"filter": "datum.c == 1"}],
     "mark": {"type": "point", "filled": false, "size": 400, "opacity": 1},
     "encoding": {
       "strokeWidth": {"condition": {"test": "datum.g == 'Non-Hispanic White' && datum.t < 245", "value": 3.8}, "value": 2.5},
       "shape": {"datum": "Censored", "type": "nominal",
         "scale": {"domain": ["Censored"], "range": ["M-1,0L1,0M0,-0.9L0,0.9"]},
         "legend": {"title": "Logrank p <.0001", "titleOrient": "bottom", "titleAnchor": "middle", "titlePadding": 10,
           "titleFontSize": 31, "labelFontSize": 34,
           "orient": "none", "legendX": 1319, "legendY": 12, "padding": 10,
           "symbolSize": 289, "symbolOffset": 13, "labelOffset": 2, "symbolStrokeWidth": 2.5,
           "symbolStrokeColor": "black", "symbolFillColor": "transparent",
           "encode": {"symbols": {"update": {"stroke": {"value": "black"}, "fill": {"value": "transparent"}, "strokeWidth": {"value": 2.5}}}}}}
     }}
  ]
}
